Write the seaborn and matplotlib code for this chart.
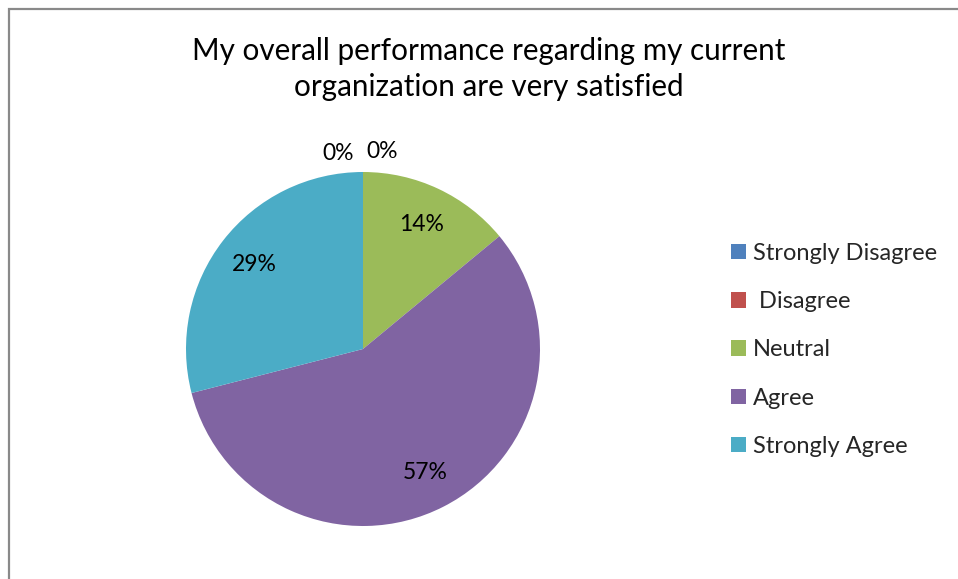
import matplotlib
matplotlib.use("Agg")
import matplotlib.pyplot as plt
import seaborn as sns
from matplotlib.patches import Patch, Rectangle
import numpy as np

categories = ["Strongly Disagree", " Disagree", "Neutral", "Agree", "Strongly Agree"]
values = [0, 0, 14, 57, 29]
colors = ["#4F81BD", "#C0504D", "#9BBB59", "#8064A2", "#4BACC6"]
title = "My overall performance regarding my current\norganization are very satisfied"

sns.set_theme(style="white")
plt.rcParams["font.family"] = ["Lato", "DejaVu Sans"]

W, H = 958, 579
fig = plt.figure(figsize=(W / 100, H / 100), dpi=100)
fig.patch.set_facecolor("white")

# border (top and left visible)
fig.add_artist(Rectangle((8.5 / W, -0.1), 1.2, 1.1 - 9.5 / H,
                         transform=fig.transFigure, fill=False,
                         edgecolor="#898989", linewidth=1.6, clip_on=False))

cx, cy, r = 363, 349, 177
ax = fig.add_axes([(cx - r) / W, (H - cy - r) / H, 2 * r / W, 2 * r / H])
wedges, texts, autotexts = ax.pie(
    values, colors=colors, startangle=90, counterclock=False,
    autopct=lambda p: f"{p:.0f}%", pctdistance=0.78,
    wedgeprops=dict(linewidth=0), textprops=dict(fontsize=16.5, color="black"))
ax.set_xlim(-1, 1)
ax.set_ylim(-1, 1)
ax.set_aspect("equal")
ax.axis("off")

# zero-value labels sit outside the pie, just above the top
zero_offsets = [-0.141, 0.107]
zi = 0
for v, t in zip(values, autotexts):
    if v == 0:
        t.set_position((zero_offsets[zi], 1.105 + 0.01 * zi))
        zi += 1

fig.text(489 / W, 1 - 69 / H, title, ha="center", va="center",
         fontsize=21.3, linespacing=1.38, color="black")

handles = [Patch(facecolor=c, edgecolor="none") for c in colors]
fig.legend(handles, categories, loc="upper left",
           bbox_to_anchor=(712 / W, 1 - 224 / H), frameon=False,
           fontsize=17, handlelength=0.64, handleheight=0.64,
           handletextpad=0.3, labelspacing=1.155, borderpad=0.3)

fig.savefig("out.png", dpi=100, facecolor="white")
